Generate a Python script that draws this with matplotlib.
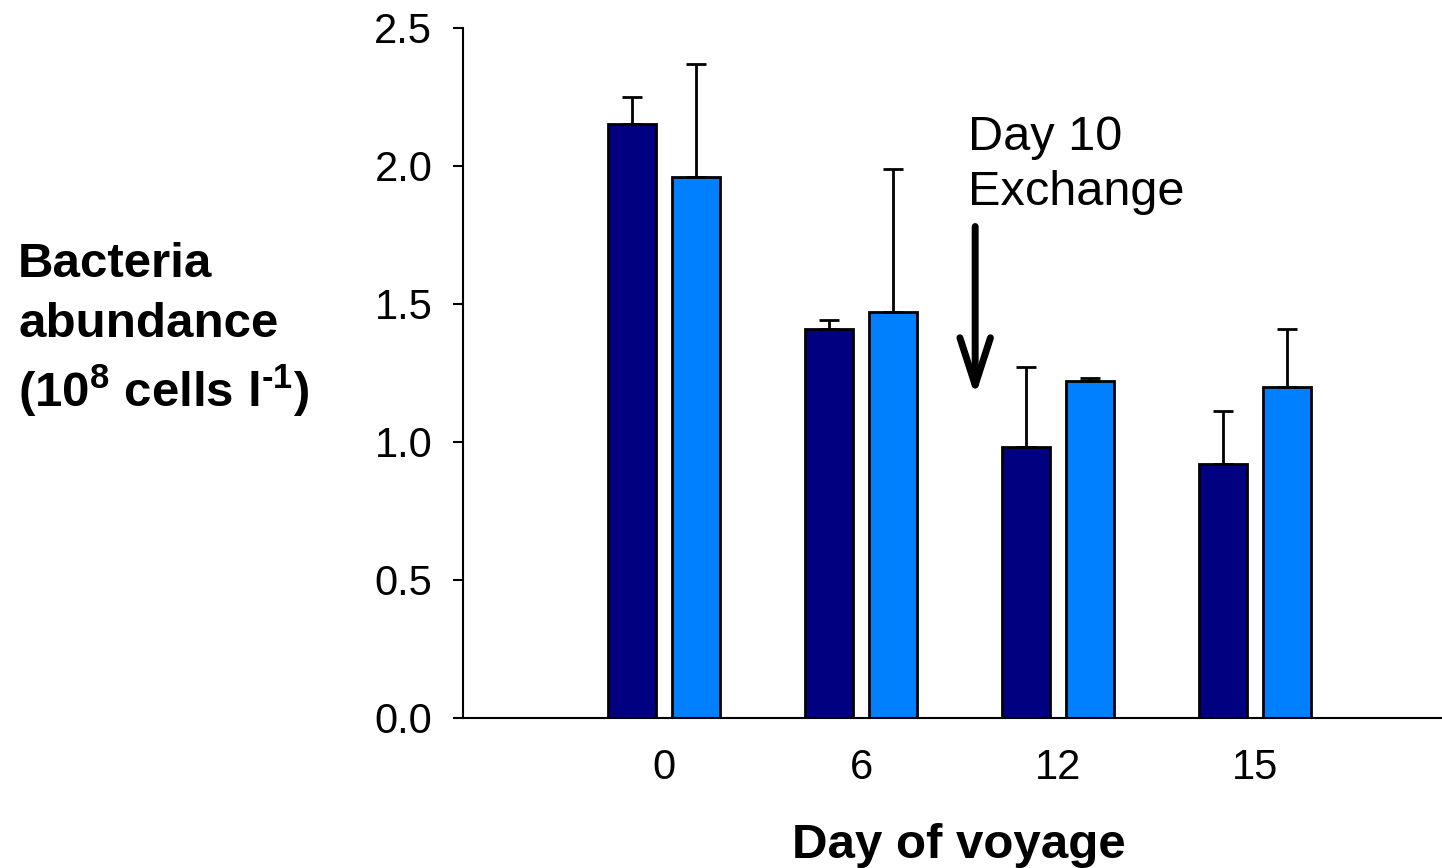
import numpy as np
import matplotlib
matplotlib.use('Agg')
import matplotlib.pyplot as plt

plt.rcParams['font.family'] = ['Liberation Sans', 'DejaVu Sans']
plt.rcParams['mathtext.fontset'] = 'custom'
plt.rcParams['mathtext.rm'] = 'Liberation Sans'
plt.rcParams['mathtext.bf'] = 'Liberation Sans:bold'

days = ['0', '6', '12', '15']
before = np.array([2.15, 1.41, 0.98, 0.92])
before_top = np.array([2.25, 1.44, 1.27, 1.11])
after = np.array([1.96, 1.47, 1.22, 1.20])
after_top = np.array([2.37, 1.99, 1.23, 1.41])

x = np.arange(len(days))
w = 0.244
off = 0.162

fig = plt.figure(figsize=(14.42, 8.68), dpi=100)
ax = fig.add_axes([0.321, 0.173, 0.678, 0.795])

ax.bar(x - off, before, w, color='#000080', edgecolor='black', linewidth=2, zorder=2)
ax.bar(x + off, after, w, color='#0080ff', edgecolor='black', linewidth=2, zorder=2)
ax.errorbar(x - off, before, yerr=[np.zeros(4), before_top - before], fmt='none',
            ecolor='black', elinewidth=2, capsize=7.5, capthick=2, zorder=3)
ax.errorbar(x + off, after, yerr=[np.zeros(4), after_top - after], fmt='none',
            ecolor='black', elinewidth=2, capsize=7.5, capthick=2, zorder=3)

ax.set_xlim(-1.02, 3.94)
ax.set_ylim(0, 2.5)
ax.set_yticks([0, 0.5, 1.0, 1.5, 2.0, 2.5])
ax.set_yticklabels(['0.0', '0.5', '1.0', '1.5', '2.0', '2.5'])
ax.set_xticks(x)
ax.set_xticklabels(days)
ax.tick_params(axis='y', length=7, width=1.5, pad=15, labelsize=30)
ax.tick_params(axis='x', length=0, pad=22, labelsize=30)
for s in ['top', 'right']:
    ax.spines[s].set_visible(False)
for s in ['left', 'bottom']:
    ax.spines[s].set_linewidth(1.5)

# exchange marker
ax.annotate('', xy=(1.579, 1.165), xytext=(1.579, 1.78),
            arrowprops=dict(arrowstyle='->,head_length=1.7,head_width=0.55',
                            lw=5, color='black', mutation_scale=20,
                            shrinkA=0, shrinkB=0))
ax.text(1.543, 2.058, 'Day 10', fontsize=35, va='baseline', ha='left')
ax.text(1.543, 1.859, 'Exchange', fontsize=35, va='baseline', ha='left')

fig.text(0.665, 1 - 858 / 868, 'Day of voyage', fontsize=35.5, fontweight='bold',
         ha='center', va='baseline')

fig.text(0.0125, 1 - 277 / 868, 'Bacteria', fontsize=35.5, fontweight='bold', va='baseline')
fig.text(0.0125, 1 - 337 / 868, 'abundance', fontsize=35.5, fontweight='bold', va='baseline')
fig.text(0.0125, 1 - 407 / 868, '(10$\\mathbf{^8}$ cells l$\\mathbf{^{\u2010 1}}$)', fontsize=35.5,
         fontweight='bold', va='baseline')

fig.savefig('out.png', dpi=100)
